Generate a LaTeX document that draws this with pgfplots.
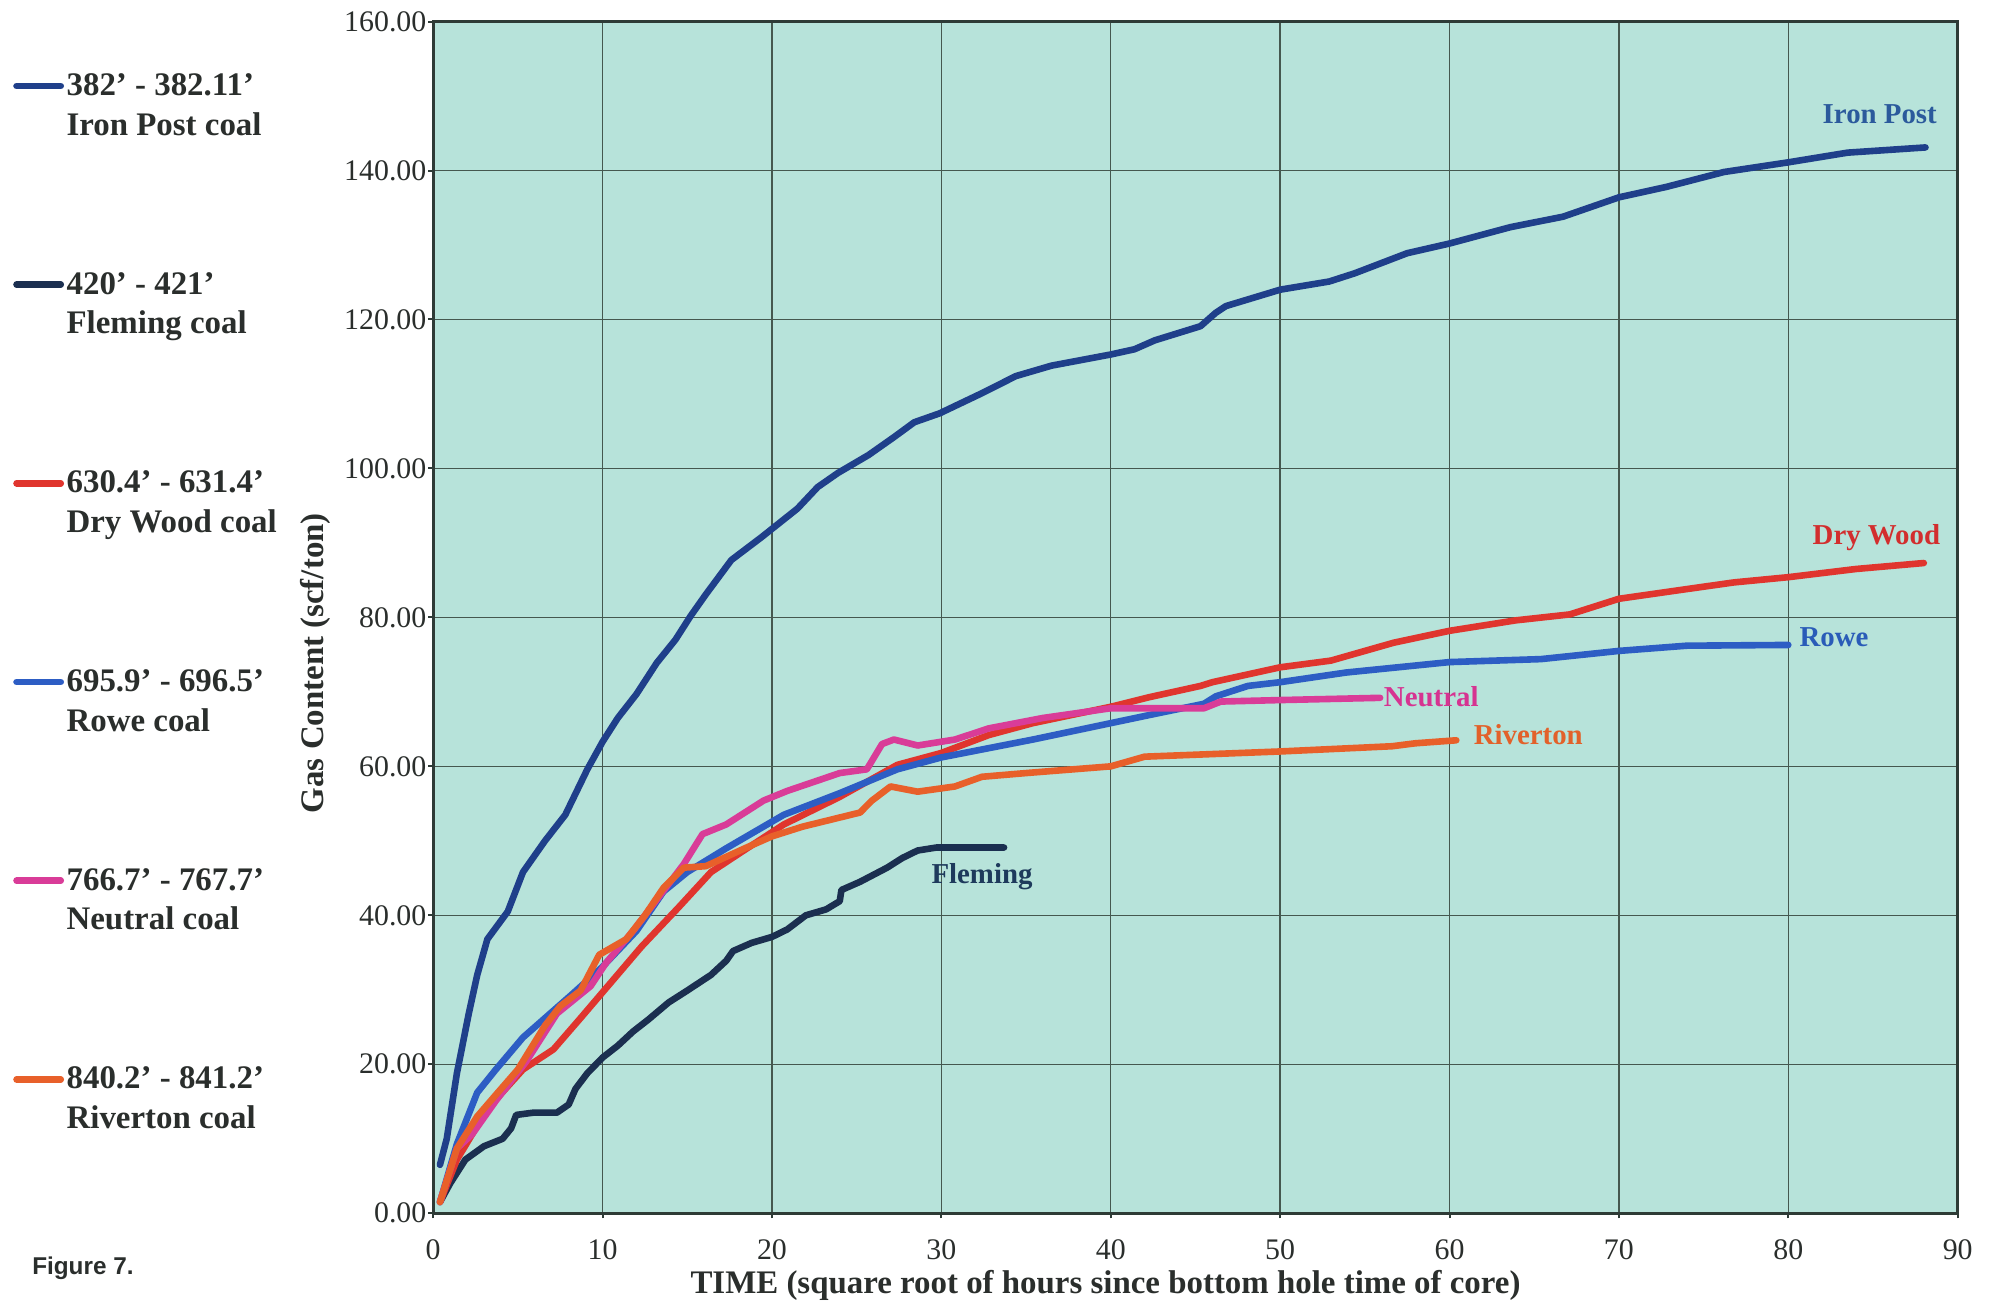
\documentclass[border=0pt]{standalone}
\usepackage{fontspec}
\setmainfont{Liberation Serif}
\newfontfamily\figfont{Liberation Sans}
\usepackage{pgfplots}
\pgfplotsset{compat=1.18}

\definecolor{bgc}{HTML}{B7E3DA}
\definecolor{gridc}{HTML}{45584F}
\definecolor{framec}{HTML}{2E3B36}
\definecolor{txtc}{HTML}{2A2E2C}
\definecolor{ironpost}{HTML}{1F3F8A}
\definecolor{fleming}{HTML}{1B2F50}
\definecolor{drywood}{HTML}{E0352E}
\definecolor{rowe}{HTML}{2D5DC4}
\definecolor{neutral}{HTML}{D93C98}
\definecolor{riverton}{HTML}{E8602A}
\definecolor{ironpostL}{HTML}{2B5A9C}
\definecolor{flemingL}{HTML}{1E3A5C}
\definecolor{drywoodL}{HTML}{D22E2E}
\definecolor{roweL}{HTML}{2A5CB8}
\definecolor{neutralL}{HTML}{D63391}
\definecolor{rivertonL}{HTML}{E2612A}

\begin{document}
\begin{tikzpicture}[x=1bp,y=1bp]
\path[use as bounding box] (-170.5,-35.5) rectangle (613.5,477.5);
\begin{axis}[
  at={(0,0)}, anchor=south west,
  scale only axis, width=600bp, height=469bp,
  xmin=0, xmax=90, ymin=0, ymax=160,
  xtick={0,10,...,90}, ytick={0,20,...,160},
  tick align=outside, major tick length=2bp,
  xtick pos=bottom, ytick pos=left,
  grid=major, grid style={gridc, line width=0.55bp},
  axis line style={framec, line width=1.1bp},
  tick style={framec, line width=0.8bp},
  axis background/.style={fill=bgc},
  /pgf/number format/assume math mode=true,
  yticklabel style={/pgf/number format/fixed, /pgf/number format/fixed zerofill,
    /pgf/number format/precision=2, font=\fontsize{11.8}{12}\selectfont, text=txtc, inner xsep=0.5bp},
  xticklabel style={font=\fontsize{11.8}{12}\selectfont, text=txtc, yshift=-5bp},
  xlabel={TIME (square root of hours since bottom hole time of core)},
  xlabel style={at={(axis description cs:0.441,-0.0608)}, anchor=center,
    font=\bfseries\fontsize{13}{15}\selectfont, text=txtc},
  ylabel={Gas Content (scf/ton)},
  ylabel style={at={(axis description cs:-0.0775,0.4616)}, anchor=center,
    font=\bfseries\fontsize{13}{15}\selectfont, text=txtc},
  legend style={at={(axis description cs:-0.2758,0.959)}, anchor=north west,
    draw=none, fill=none, inner sep=0pt, row sep=50.4bp,
    font=\bfseries\fontsize{13}{15.75}\selectfont, text=txtc,
    cells={align=left}, nodes={inner sep=1bp}},
  legend cell align=left,
  legend image code/.code={\draw[#1, line width=2.6bp, line cap=round] (0bp,8bp) -- (17.4bp,8bp);},
  every axis plot/.append style={line width=2.6bp, line join=round, line cap=round},
]
\addplot[ironpost] coordinates {
(0.4,6.5) (0.8,10) (1.4,18.8) (2.1,26.8) (2.6,32) (3.2,36.8) (4.4,40.5) (5.3,45.8)
(6.6,50) (7.8,53.5) (9.1,59.6) (10,63.3) (10.9,66.5) (12,69.7) (13.2,73.9) (14.3,77)
(15.2,80.2) (16.1,83.1) (17.6,87.7) (19.4,90.8) (21.5,94.6) (22.7,97.5) (23.9,99.4)
(25.7,101.8) (27.2,104.2) (28.4,106.2) (29.9,107.4) (32.3,110) (34.4,112.4) (36.5,113.8)
(40,115.3) (41.4,116) (42.6,117.2) (45.3,119.1) (46.2,120.9) (46.8,121.8) (50,124)
(52.9,125.1) (54.4,126.2) (57.5,128.9) (60,130.2) (63.6,132.4) (66.7,133.8) (70,136.4)
(72.8,137.8) (76.2,139.8) (80,141.1) (83.5,142.4) (88.1,143.1)};
\addlegendentry{382’ - 382.11’\\Iron Post coal}
\addplot[fleming] coordinates {
(0.4,1.5) (1,4) (1.9,7.2) (3,9) (4.1,10) (4.6,11.4) (4.9,13.2) (5.9,13.5) (7.3,13.5)
(8,14.6) (8.4,16.7) (9.1,18.8) (10,20.9) (10.9,22.5) (11.8,24.4) (12.7,26) (13.9,28.3)
(15,29.9) (16.4,32) (17.3,33.9) (17.7,35.2) (18.8,36.3) (20,37.1) (20.9,38.1) (22,40)
(23.2,40.8) (24,41.9) (24.1,43.4) (25.2,44.5) (26.8,46.4) (27.7,47.7) (28.6,48.7)
(29.7,49.1) (33.7,49.1)};
\addlegendentry{420’ - 421’\\Fleming coal}
\addplot[drywood] coordinates {
(0.4,1.5) (1.4,7.2) (3.2,14) (5.3,19.3) (7.1,22) (8.7,26.2) (10.5,31) (12.3,35.8)
(14.5,41.1) (16.4,45.8) (18.2,48.5) (20.7,52.2) (24,55.9) (27.4,60.2) (30,61.8)
(32.8,64.2) (35.4,65.8) (40,68) (42.3,69.3) (45.3,70.8) (46,71.3) (50,73.3) (53,74.2)
(56.7,76.6) (60,78.2) (63.9,79.6) (67.1,80.4) (70,82.5) (74,83.8) (76.8,84.7) (80,85.4)
(84,86.5) (88,87.3)};
\addlegendentry{630.4’ - 631.4’\\Dry Wood coal}
\addplot[rowe] coordinates {
(0.4,1.5) (1.4,9.3) (2.6,16.2) (3.7,19.3) (5.3,23.6) (6.2,25.4) (8.2,29.4) (10,33.1)
(12,37.9) (13.6,43.2) (15,45.8) (17.3,49) (20.7,53.5) (24,56.4) (27.4,59.6) (30,61.2)
(35.4,63.6) (40,65.8) (42.3,66.9) (45.5,68.4) (46.2,69.4) (48.1,70.8) (50,71.3)
(53.9,72.6) (60,74) (65.4,74.4) (70,75.5) (74,76.2) (80,76.3)};
\addlegendentry{695.9’ - 696.5’\\Rowe coal}
\addplot[neutral] coordinates {
(0.4,1.5) (1.4,8.7) (2.3,10.6) (3.7,15.1) (5.5,20.4) (7.3,26.8) (9.3,30.5) (10.2,33.6)
(11.8,37.9) (13.4,42.7) (14.8,46.9) (15.9,50.9) (17.3,52.2) (19.5,55.4) (20.9,56.7)
(24,59.1) (25.6,59.6) (26.5,63) (27.2,63.6) (28.6,62.8) (30.8,63.6) (32.8,65.1)
(36,66.5) (40,67.8) (45.5,67.8) (46.5,68.7) (50,68.9) (55.9,69.2)};
\addlegendentry{766.7’ - 767.7’\\Neutral coal}
\addplot[riverton] coordinates {
(0.4,1.5) (1.4,8.7) (2.6,13) (3.7,15.9) (5,19.3) (6.6,25.2) (7.5,27.8) (8.7,29.9)
(9.8,34.7) (11.4,36.8) (12.5,40) (13.6,43.7) (14.8,46.4) (16.1,46.6) (18.4,49) (20,50.6)
(21.8,51.9) (25.2,53.8) (25.9,55.4) (27,57.3) (28.6,56.6) (30.8,57.3) (32.4,58.6)
(35,59.1) (40,60) (42,61.3) (50,62) (56.6,62.7) (58,63.1) (60.4,63.5)};
\addlegendentry{840.2’ - 841.2’\\Riverton coal}

\node[font=\bfseries\fontsize{11.4}{12}\selectfont, text=ironpostL, inner sep=0pt] at (axis cs:85.4,147.5) {Iron Post};
\node[font=\bfseries\fontsize{11.4}{12}\selectfont, text=drywoodL, inner sep=0pt] at (axis cs:85.2,90.7) {Dry Wood};
\node[font=\bfseries\fontsize{11.4}{12}\selectfont, text=roweL, inner sep=0pt] at (axis cs:82.7,77.4) {Rowe};
\node[font=\bfseries\fontsize{11.4}{12}\selectfont, text=neutralL, inner sep=0pt, anchor=west] at (axis cs:56.1,69.3) {Neutral};
\node[font=\bfseries\fontsize{11.4}{12}\selectfont, text=rivertonL, inner sep=0pt, anchor=west] at (axis cs:61.4,64.3) {Riverton};
\node[font=\bfseries\fontsize{11.4}{12}\selectfont, text=flemingL, inner sep=0pt] at (axis cs:32.4,45.2) {Fleming};
\end{axis}
\node[anchor=west, inner sep=0pt, text=txtc, font=\figfont\bfseries\fontsize{9.6}{11}\selectfont] at (-158,-21.5) {Figure 7.};
\end{tikzpicture}
\end{document}
